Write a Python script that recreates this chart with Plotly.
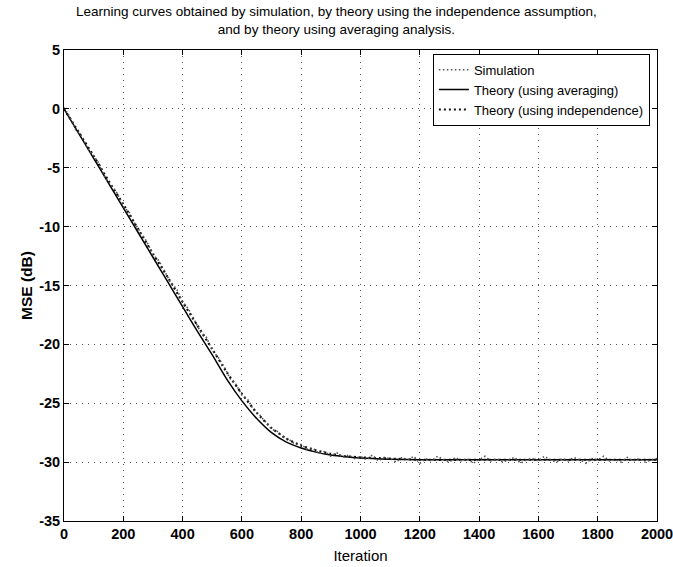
import plotly.graph_objects as go

# Iteration grid of the simulated learning curve (every 20 iterations)
sim_iter = list(range(0, 2001, 20))
sim_mse = [
    0.1, -0.7, -1.8, -2.3, -3.4, -4.0, -4.7, -5.9, -6.5, -7.2,
    -8.3, -8.8, -9.8, -10.6, -11.3, -12.4, -12.9, -13.8, -14.8, -15.3,
    -16.4, -17.0, -17.9, -18.9, -19.4, -20.5, -21.1, -21.9, -22.9, -23.4,
    -24.3, -24.7, -25.6, -26.0, -26.6, -27.2, -27.4, -27.9, -28.1, -28.5,
    -28.5, -28.9, -28.8, -29.3, -29.1, -29.5, -29.2, -29.6, -29.4, -29.7,
    -29.5, -29.8, -29.4, -29.9, -29.6, -29.7, -30.0, -29.6, -29.8, -29.5,
    -30.1, -29.7, -29.9, -29.5, -29.8, -30.0, -29.6, -29.9, -29.7, -30.1,
    -29.8, -29.5, -29.9, -29.7, -30.0, -29.8, -29.6, -30.1, -29.8, -29.7,
    -29.9, -29.5, -29.8, -30.0, -29.7, -29.9, -29.6, -29.8, -30.1, -29.7,
    -29.8, -29.5, -29.9, -29.8, -30.0, -29.6, -29.9, -29.7, -30.0, -29.8,
    -29.7,
]

# Theoretical learning curves
theory_iter = [0, 50, 100, 150, 200, 250, 300, 350, 400, 450, 500, 550, 600,
               650, 700, 750, 800, 850, 900, 950, 1000, 1100, 1200, 1400,
               1600, 1800, 2000]
avg_mse = [0.0, -2.1, -4.2, -6.3, -8.4, -10.5, -12.6, -14.7, -16.8, -18.9,
           -20.9, -23.0, -24.8, -26.3, -27.5, -28.3, -28.8, -29.15, -29.4,
           -29.55, -29.65, -29.75, -29.8, -29.8, -29.8, -29.8, -29.8]
indep_mse = [0.0, -2.0, -4.0, -6.1, -8.1, -10.2, -12.3, -14.3, -16.4, -18.4,
             -20.4, -22.4, -24.2, -25.8, -27.1, -28.0, -28.6, -29.0, -29.3,
             -29.5, -29.6, -29.7, -29.8, -29.8, -29.8, -29.8, -29.8]

x_ticks = list(range(0, 2001, 200))
y_ticks = [5, 0, -5, -10, -15, -20, -25, -30, -35]
y_tick_text = ["5", "0", "-5", "-10", "-15", "-20", "-25", "-30", "-35"]

title_text = ("Learning curves obtained by simulation, by theory using the independence assumption,<br>"
              "and by theory using averaging analysis.")

fig = go.Figure()
fig.add_trace(go.Scatter(
    x=theory_iter, y=avg_mse, mode="lines", name="Theory (using averaging)",
    line=dict(color="black", width=1.5, shape="spline", smoothing=0.6),
    legendrank=2,
))
fig.add_trace(go.Scatter(
    x=theory_iter, y=indep_mse, mode="lines", name="Theory (using independence)",
    line=dict(color="#111111", width=2.2, dash="2px,3px", shape="spline", smoothing=0.6),
    legendrank=3,
))
# simulation drawn on top so its scatter stays visible around the theory curves
fig.add_trace(go.Scatter(
    x=sim_iter, y=sim_mse, mode="lines", name="Simulation",
    line=dict(color="#555555", width=1.6, dash="1.5px,2.5px"),
    legendrank=1,
))

axis_common = dict(
    showline=True, linecolor="black", linewidth=1, mirror="ticks",
    ticks="inside", ticklen=5, tickcolor="black",
    showgrid=True, gridcolor="#555555", gridwidth=1, griddash="1px,5px",
    zeroline=False, automargin=False, ticklabeloverflow="allow",
    tickfont=dict(family="Liberation Sans", size=14.5, color="black", weight="bold"),
)

fig.update_layout(
    width=673, height=567,
    margin=dict(l=64, r=16, t=50, b=46),
    paper_bgcolor="white", plot_bgcolor="white",
    xaxis=dict(
        range=[0, 2000], tickvals=x_ticks,
        title=dict(text="Iteration", standoff=9,
                   font=dict(family="Liberation Sans", size=15, color="black")),
        **axis_common,
    ),
    yaxis=dict(
        range=[-35, 5], tickvals=y_ticks, ticktext=y_tick_text,
        title=dict(text="MSE (dB)", standoff=2,
                   font=dict(family="Liberation Sans", size=15.5, color="black", weight="bold")),
        **axis_common,
    ),
    legend=dict(
        x=0.988, xanchor="right", y=0.992, yanchor="top",
        bgcolor="white", bordercolor="black", borderwidth=1,
        font=dict(family="Liberation Sans", size=13, color="black"),
        tracegroupgap=0, itemwidth=30,
    ),
    annotations=[dict(
        text=title_text, xref="paper", yref="paper", x=0.46, y=1,
        xanchor="center", yanchor="bottom", yshift=11, showarrow=False,
        align="center", font=dict(family="Liberation Sans", size=13.5, color="black"),
    )],
    showlegend=True,
)

fig.write_html("out.html")
